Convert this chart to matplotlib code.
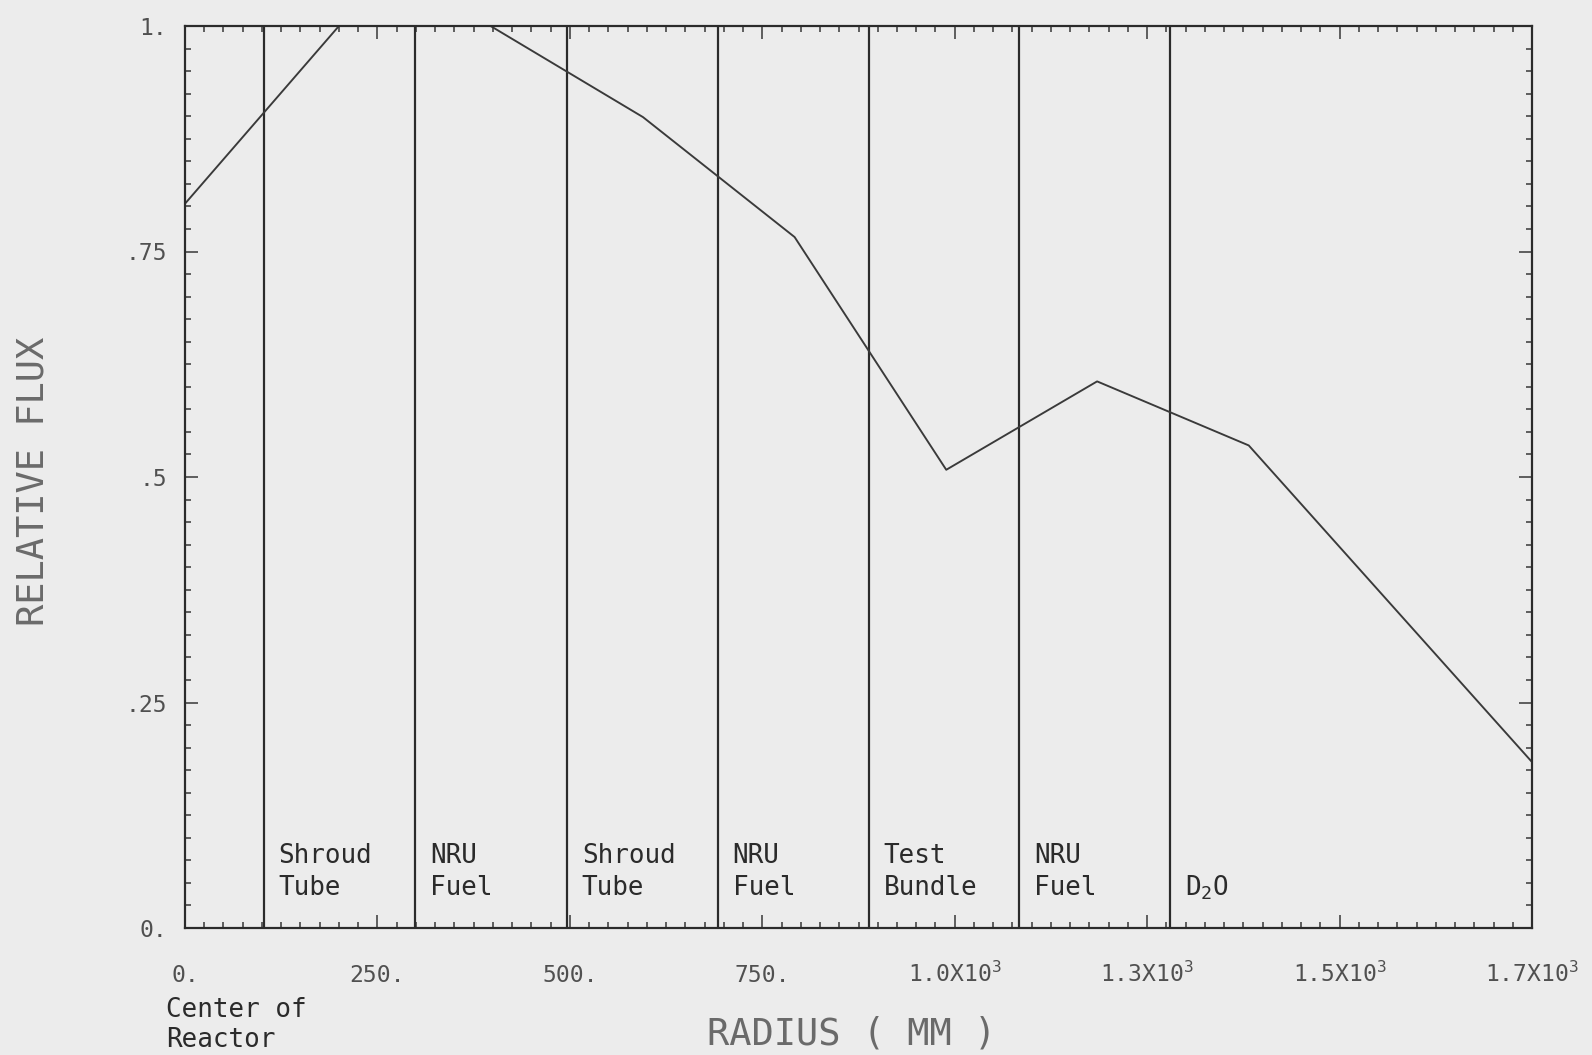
import numpy as np
import matplotlib.pyplot as plt

plt.rcParams['font.family'] = ['DejaVu Sans Mono', 'DejaVu Sans']
plt.rcParams['mathtext.fontset'] = 'custom'
plt.rcParams['mathtext.rm'] = 'DejaVu Sans Mono'
plt.rcParams['mathtext.it'] = 'DejaVu Sans Mono:italic'
plt.rcParams['mathtext.bf'] = 'DejaVu Sans Mono:bold'

# radial flux profile, radius in mm
radius = [0, 200, 397, 595, 792, 989, 1185, 1382, 1750]
rel_flux = [0.803, 1.0, 1.0, 0.899, 0.766, 0.508, 0.606, 0.535, 0.184]

# lattice region boundaries (mm) and the region to the right of each
boundaries = [102, 299, 496, 692, 888, 1084, 1280]
region_names = ['Shroud\nTube', 'NRU\nFuel', 'Shroud\nTube', 'NRU\nFuel',
                'Test\nBundle', 'NRU\nFuel', '\nD$_2$O']

xtick_vals = [0, 250, 500, 750, 1000, 1250, 1500, 1750]
xtick_labels = ['0.', '250.', '500.', '750.', '1.0X10$^3$', '1.3X10$^3$',
                '1.5X10$^3$', '1.7X10$^3$']
ytick_vals = [0, 0.25, 0.5, 0.75, 1.0]
ytick_labels = ['0.', '.25', '.5', '.75', '1.']

bg = '#ececec'
ink = '#2b2b2b'

fig = plt.figure(figsize=(1592 / 72, 1055 / 72), dpi=72, facecolor=bg)
ax = fig.add_axes([185 / 1592, 127 / 1055, 1347 / 1592, 902 / 1055], facecolor=bg)

for b in boundaries:
    ax.axvline(b, color=ink, lw=2.2)

ax.plot(radius, rel_flux, color='#3a3a3a', lw=1.9)

ax.set_xlim(0, 1750)
ax.set_ylim(0, 1)

ax.set_xticks(xtick_vals, xtick_labels)
ax.set_xticks(np.arange(0, 1751, 25), minor=True)
ax.set_yticks(ytick_vals, ytick_labels)
ax.set_yticks(np.arange(0, 1.0001, 0.025), minor=True)

ax.tick_params(which='both', direction='in', top=True, right=True,
               width=1.5, color='#333333')
ax.tick_params(which='major', length=13)
ax.tick_params(which='minor', length=6)
ax.tick_params(axis='x', pad=54, labelsize=23, labelcolor='#505050')
ax.tick_params(axis='y', pad=18, labelsize=23, labelcolor='#505050')
plt.setp(ax.get_xticklabels(), va='baseline')

for s in ax.spines.values():
    s.set_linewidth(2.2)
    s.set_color(ink)

# region names along the bottom of each band
for b, name in zip(boundaries, region_names):
    for i, line in enumerate(name.split('\n')):
        if line:
            ax.annotate(line, xy=(b, 0), xycoords='data',
                        xytext=(15, 65 - 32 * i), textcoords='offset pixels',
                        ha='left', va='baseline', fontsize=26, color=ink)

for i, line in enumerate(['Center of', 'Reactor']):
    ax.annotate(line, xy=(0, 0), xycoords='data',
                xytext=(-19, -89 - 30 * i), textcoords='offset pixels',
                ha='left', va='baseline', fontsize=26, color=ink,
                annotation_clip=False)

ax.set_xlabel('RADIUS ( MM )', fontsize=37, color='#6a6a6a')
ax.xaxis.set_label_coords(0.495, -0.1297)
ax.xaxis.label.set_va('baseline')

ax.set_ylabel('RELATIVE FLUX', fontsize=37, color='#6a6a6a')
ax.yaxis.set_label_coords(-0.113, 0.495)
ax.yaxis.label.set_va('center')

fig.savefig('out.png', dpi=72, facecolor=bg)
